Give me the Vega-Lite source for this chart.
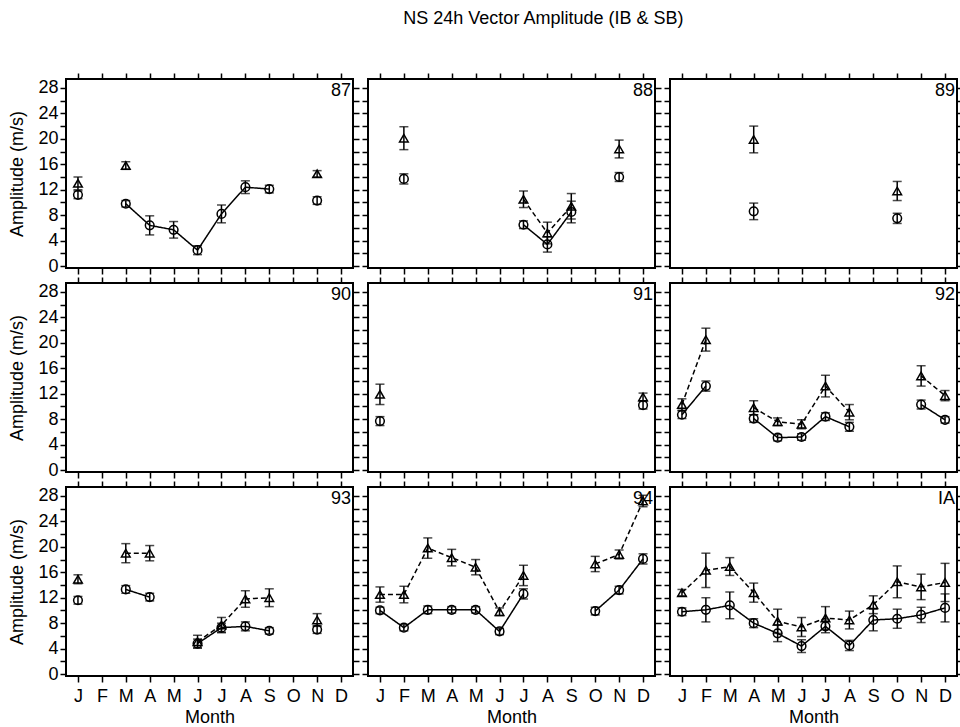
{
"$schema":"https://vega.github.io/schema/vega-lite/v6.json",
"padding":{"left":7,"top":10,"right":0,"bottom":0},
"title":{"text":"NS 24h Vector Amplitude (IB & SB)","fontSize":18,"fontWeight":"normal","font":"Liberation Sans","color":"black","anchor":"middle","offset":43,"dx":57},
"datasets":{"pts":[
{"p":"87","m":1,"s":"IB","v":11.2,"e":0.6},{"p":"87","m":2,"s":"IB","v":null},{"p":"87","m":3,"s":"IB","v":9.8,"e":0.5},{"p":"87","m":4,"s":"IB","v":6.4,"e":1.5},{"p":"87","m":5,"s":"IB","v":5.7,"e":1.3},{"p":"87","m":6,"s":"IB","v":2.5,"e":0.7},{"p":"87","m":7,"s":"IB","v":8.2,"e":1.4},{"p":"87","m":8,"s":"IB","v":12.4,"e":1.0},{"p":"87","m":9,"s":"IB","v":12.1,"e":0.6},{"p":"87","m":10,"s":"IB","v":null},{"p":"87","m":11,"s":"IB","v":10.3,"e":0.6},{"p":"87","m":12,"s":"IB","v":null},
{"p":"87","m":1,"s":"SB","v":13.0,"e":1.0},{"p":"87","m":2,"s":"SB","v":null},{"p":"87","m":3,"s":"SB","v":15.8,"e":0.6},{"p":"87","m":4,"s":"SB","v":null},{"p":"87","m":5,"s":"SB","v":null},{"p":"87","m":6,"s":"SB","v":null},{"p":"87","m":7,"s":"SB","v":null},{"p":"87","m":8,"s":"SB","v":null},{"p":"87","m":9,"s":"SB","v":null},{"p":"87","m":10,"s":"SB","v":null},{"p":"87","m":11,"s":"SB","v":14.5,"e":0.5},{"p":"87","m":12,"s":"SB","v":null},
{"p":"88","m":1,"s":"IB","v":null},{"p":"88","m":2,"s":"IB","v":13.7,"e":0.8},{"p":"88","m":3,"s":"IB","v":null},{"p":"88","m":4,"s":"IB","v":null},{"p":"88","m":5,"s":"IB","v":null},{"p":"88","m":6,"s":"IB","v":null},{"p":"88","m":7,"s":"IB","v":6.5,"e":0.6},{"p":"88","m":8,"s":"IB","v":3.4,"e":1.2},{"p":"88","m":9,"s":"IB","v":8.5,"e":1.7},{"p":"88","m":10,"s":"IB","v":null},{"p":"88","m":11,"s":"IB","v":14.0,"e":0.7},{"p":"88","m":12,"s":"IB","v":null},
{"p":"88","m":1,"s":"SB","v":null},{"p":"88","m":2,"s":"SB","v":20.1,"e":1.8},{"p":"88","m":3,"s":"SB","v":null},{"p":"88","m":4,"s":"SB","v":null},{"p":"88","m":5,"s":"SB","v":null},{"p":"88","m":6,"s":"SB","v":null},{"p":"88","m":7,"s":"SB","v":10.5,"e":1.3},{"p":"88","m":8,"s":"SB","v":5.2,"e":1.7},{"p":"88","m":9,"s":"SB","v":9.4,"e":2.0},{"p":"88","m":10,"s":"SB","v":null},{"p":"88","m":11,"s":"SB","v":18.4,"e":1.4},{"p":"88","m":12,"s":"SB","v":null},
{"p":"89","m":1,"s":"IB","v":null},{"p":"89","m":2,"s":"IB","v":null},{"p":"89","m":3,"s":"IB","v":null},{"p":"89","m":4,"s":"IB","v":8.6,"e":1.3},{"p":"89","m":5,"s":"IB","v":null},{"p":"89","m":6,"s":"IB","v":null},{"p":"89","m":7,"s":"IB","v":null},{"p":"89","m":8,"s":"IB","v":null},{"p":"89","m":9,"s":"IB","v":null},{"p":"89","m":10,"s":"IB","v":7.5,"e":0.8},{"p":"89","m":11,"s":"IB","v":null},{"p":"89","m":12,"s":"IB","v":null},
{"p":"89","m":1,"s":"SB","v":null},{"p":"89","m":2,"s":"SB","v":null},{"p":"89","m":3,"s":"SB","v":null},{"p":"89","m":4,"s":"SB","v":19.9,"e":2.1},{"p":"89","m":5,"s":"SB","v":null},{"p":"89","m":6,"s":"SB","v":null},{"p":"89","m":7,"s":"SB","v":null},{"p":"89","m":8,"s":"SB","v":null},{"p":"89","m":9,"s":"SB","v":null},{"p":"89","m":10,"s":"SB","v":11.8,"e":1.5},{"p":"89","m":11,"s":"SB","v":null},{"p":"89","m":12,"s":"SB","v":null},
{"p":"91","m":1,"s":"IB","v":7.7,"e":0.7},{"p":"91","m":2,"s":"IB","v":null},{"p":"91","m":11,"s":"IB","v":null},{"p":"91","m":12,"s":"IB","v":10.2,"e":0.6},
{"p":"91","m":1,"s":"SB","v":11.9,"e":1.6},{"p":"91","m":2,"s":"SB","v":null},{"p":"91","m":11,"s":"SB","v":null},{"p":"91","m":12,"s":"SB","v":11.5,"e":0.6},
{"p":"92","m":1,"s":"IB","v":8.7,"e":0.6},{"p":"92","m":2,"s":"IB","v":13.2,"e":0.8},{"p":"92","m":3,"s":"IB","v":null},{"p":"92","m":4,"s":"IB","v":8.1,"e":0.6},{"p":"92","m":5,"s":"IB","v":5.1,"e":0.5},{"p":"92","m":6,"s":"IB","v":5.2,"e":0.5},{"p":"92","m":7,"s":"IB","v":8.4,"e":0.6},{"p":"92","m":8,"s":"IB","v":6.8,"e":0.7},{"p":"92","m":9,"s":"IB","v":null},{"p":"92","m":10,"s":"IB","v":null},{"p":"92","m":11,"s":"IB","v":10.3,"e":0.7},{"p":"92","m":12,"s":"IB","v":7.9,"e":0.5},
{"p":"92","m":1,"s":"SB","v":10.3,"e":0.9},{"p":"92","m":2,"s":"SB","v":20.5,"e":1.8},{"p":"92","m":3,"s":"SB","v":null},{"p":"92","m":4,"s":"SB","v":9.8,"e":1.1},{"p":"92","m":5,"s":"SB","v":7.6,"e":0.6},{"p":"92","m":6,"s":"SB","v":7.2,"e":0.7},{"p":"92","m":7,"s":"SB","v":13.2,"e":1.7},{"p":"92","m":8,"s":"SB","v":9.1,"e":1.2},{"p":"92","m":9,"s":"SB","v":null},{"p":"92","m":10,"s":"SB","v":null},{"p":"92","m":11,"s":"SB","v":14.8,"e":1.6},{"p":"92","m":12,"s":"SB","v":11.7,"e":0.8},
{"p":"93","m":1,"s":"IB","v":11.6,"e":0.6},{"p":"93","m":2,"s":"IB","v":null},{"p":"93","m":3,"s":"IB","v":13.3,"e":0.6},{"p":"93","m":4,"s":"IB","v":12.1,"e":0.6},{"p":"93","m":5,"s":"IB","v":null},{"p":"93","m":6,"s":"IB","v":4.8,"e":0.7},{"p":"93","m":7,"s":"IB","v":7.3,"e":0.7},{"p":"93","m":8,"s":"IB","v":7.5,"e":0.7},{"p":"93","m":9,"s":"IB","v":6.8,"e":0.5},{"p":"93","m":10,"s":"IB","v":null},{"p":"93","m":11,"s":"IB","v":7.0,"e":0.6},{"p":"93","m":12,"s":"IB","v":null},
{"p":"93","m":1,"s":"SB","v":14.9,"e":0.7},{"p":"93","m":2,"s":"SB","v":null},{"p":"93","m":3,"s":"SB","v":19.0,"e":1.5},{"p":"93","m":4,"s":"SB","v":19.0,"e":1.2},{"p":"93","m":5,"s":"SB","v":null},{"p":"93","m":6,"s":"SB","v":5.1,"e":1.0},{"p":"93","m":7,"s":"SB","v":7.7,"e":1.2},{"p":"93","m":8,"s":"SB","v":11.8,"e":1.3},{"p":"93","m":9,"s":"SB","v":12.0,"e":1.4},{"p":"93","m":10,"s":"SB","v":null},{"p":"93","m":11,"s":"SB","v":8.5,"e":1.0},{"p":"93","m":12,"s":"SB","v":null},
{"p":"94","m":1,"s":"IB","v":10.0,"e":0.5},{"p":"94","m":2,"s":"IB","v":7.3,"e":0.5},{"p":"94","m":3,"s":"IB","v":10.1,"e":0.6},{"p":"94","m":4,"s":"IB","v":10.1,"e":0.5},{"p":"94","m":5,"s":"IB","v":10.1,"e":0.5},{"p":"94","m":6,"s":"IB","v":6.7,"e":0.5},{"p":"94","m":7,"s":"IB","v":12.6,"e":0.8},{"p":"94","m":8,"s":"IB","v":null},{"p":"94","m":9,"s":"IB","v":null},{"p":"94","m":10,"s":"IB","v":9.9,"e":0.6},{"p":"94","m":11,"s":"IB","v":13.2,"e":0.6},{"p":"94","m":12,"s":"IB","v":18.1,"e":0.8},
{"p":"94","m":1,"s":"SB","v":12.5,"e":1.2},{"p":"94","m":2,"s":"SB","v":12.5,"e":1.3},{"p":"94","m":3,"s":"SB","v":19.8,"e":1.6},{"p":"94","m":4,"s":"SB","v":18.3,"e":1.3},{"p":"94","m":5,"s":"SB","v":16.8,"e":1.2},{"p":"94","m":6,"s":"SB","v":9.8,"e":0.6},{"p":"94","m":7,"s":"SB","v":15.5,"e":1.6},{"p":"94","m":8,"s":"SB","v":null},{"p":"94","m":9,"s":"SB","v":null},{"p":"94","m":10,"s":"SB","v":17.3,"e":1.2},{"p":"94","m":11,"s":"SB","v":18.8,"e":0.7},{"p":"94","m":12,"s":"SB","v":27.2,"e":0.9},
{"p":"IA","m":1,"s":"IB","v":9.8,"e":0.6},{"p":"IA","m":2,"s":"IB","v":10.1,"e":1.9},{"p":"IA","m":3,"s":"IB","v":10.8,"e":2.1},{"p":"IA","m":4,"s":"IB","v":8.0,"e":0.7},{"p":"IA","m":5,"s":"IB","v":6.4,"e":1.3},{"p":"IA","m":6,"s":"IB","v":4.4,"e":1.0},{"p":"IA","m":7,"s":"IB","v":7.5,"e":1.0},{"p":"IA","m":8,"s":"IB","v":4.5,"e":0.8},{"p":"IA","m":9,"s":"IB","v":8.5,"e":1.7},{"p":"IA","m":10,"s":"IB","v":8.7,"e":1.5},{"p":"IA","m":11,"s":"IB","v":9.3,"e":1.2},{"p":"IA","m":12,"s":"IB","v":10.4,"e":2.2},
{"p":"IA","m":1,"s":"SB","v":12.8,"e":0.5},{"p":"IA","m":2,"s":"SB","v":16.3,"e":2.7},{"p":"IA","m":3,"s":"SB","v":16.9,"e":1.4},{"p":"IA","m":4,"s":"SB","v":12.8,"e":1.5},{"p":"IA","m":5,"s":"SB","v":8.3,"e":1.9},{"p":"IA","m":6,"s":"SB","v":7.4,"e":1.5},{"p":"IA","m":7,"s":"SB","v":8.8,"e":1.8},{"p":"IA","m":8,"s":"SB","v":8.5,"e":1.4},{"p":"IA","m":9,"s":"SB","v":10.9,"e":1.4},{"p":"IA","m":10,"s":"SB","v":14.5,"e":2.5},{"p":"IA","m":11,"s":"SB","v":13.7,"e":2.0},{"p":"IA","m":12,"s":"SB","v":14.4,"e":3.0}
]},
"columns":3,
"spacing":{"row":15,"column":15},
"bounds":"flush",
"concat":[
{"width":287,"height":189,"data":{"name":"pts"},"layer":[
 {"transform":[{"filter":"datum.p=='87' && isValid(datum.v)"}],"mark":{"type":"errorbar","ticks":true,"size":9,"thickness":1.5},
  "encoding":{"x":{"field":"m","type":"quantitative","scale":{"domain":[0.5,12.5],"nice":false,"zero":false},"axis":{"orient":"bottom","values":[1,2,3,4,5,6,7,8,9,10,11,12],"labels":false,"title":null}},
   "y":{"field":"v","type":"quantitative","scale":{"domain":[-0.3,29.4],"nice":false,"zero":false},"axis":{"orient":"left","values":[0,2,4,6,8,10,12,14,16,18,20,22,24,26,28],"labelExpr":"datum.value % 4 == 0 ? datum.label : ''","title":"Amplitude (m/s)"}},
   "yError":{"field":"e"}}},
 {"transform":[{"filter":"datum.p=='87'"}],"mark":{"type":"line","strokeWidth":1.5,"invalid":"break-paths-show-domains"},
  "encoding":{"x":{"field":"m","type":"quantitative","scale":{"domain":[0.5,12.5],"nice":false,"zero":false},"axis":null},"y":{"field":"v","type":"quantitative","scale":{"domain":[-0.3,29.4],"nice":false,"zero":false},"axis":null},
   "strokeDash":{"field":"s","type":"nominal","scale":{"domain":["IB","SB"],"range":[[1,0],[5,3]]},"legend":null}}},
 {"transform":[{"filter":"datum.p=='87' && isValid(datum.v)"}],"mark":{"type":"point","filled":false,"size":75,"strokeWidth":1.5,"opacity":1},
  "encoding":{"x":{"field":"m","type":"quantitative","scale":{"domain":[0.5,12.5],"nice":false,"zero":false},"axis":null},"y":{"field":"v","type":"quantitative","scale":{"domain":[-0.3,29.4],"nice":false,"zero":false},"axis":null},
   "shape":{"field":"s","type":"nominal","scale":{"domain":["IB","SB"],"range":["circle","triangle-up"]},"legend":null}}},
 {"data":{"values":[{"t":"87"}]},"mark":{"type":"text","align":"right","baseline":"top","dx":-2,"dy":3,"fontSize":18},
  "encoding":{"x":{"datum":12.5,"type":"quantitative","scale":{"domain":[0.5,12.5],"nice":false,"zero":false},"axis":{"orient":"top","values":[1,2,3,4,5,6,7,8,9,10,11,12],"labels":false,"title":null}},
   "y":{"datum":29.4,"type":"quantitative","scale":{"domain":[-0.3,29.4],"nice":false,"zero":false},"axis":{"orient":"right","values":[0,2,4,6,8,10,12,14,16,18,20,22,24,26,28],"labels":false,"title":null}},
   "text":{"field":"t"}}}
],"resolve":{"axis":{"x":"independent","y":"independent"}}},
{"width":287,"height":189,"data":{"name":"pts"},"layer":[
 {"transform":[{"filter":"datum.p=='88' && isValid(datum.v)"}],"mark":{"type":"errorbar","ticks":true,"size":9,"thickness":1.5},
  "encoding":{"x":{"field":"m","type":"quantitative","scale":{"domain":[0.5,12.5],"nice":false,"zero":false},"axis":{"orient":"bottom","values":[1,2,3,4,5,6,7,8,9,10,11,12],"labels":false,"title":null}},
   "y":{"field":"v","type":"quantitative","scale":{"domain":[-0.3,29.4],"nice":false,"zero":false},"axis":{"orient":"left","values":[0,2,4,6,8,10,12,14,16,18,20,22,24,26,28],"labels":false,"title":null}},
   "yError":{"field":"e"}}},
 {"transform":[{"filter":"datum.p=='88'"}],"mark":{"type":"line","strokeWidth":1.5,"invalid":"break-paths-show-domains"},
  "encoding":{"x":{"field":"m","type":"quantitative","scale":{"domain":[0.5,12.5],"nice":false,"zero":false},"axis":null},"y":{"field":"v","type":"quantitative","scale":{"domain":[-0.3,29.4],"nice":false,"zero":false},"axis":null},
   "strokeDash":{"field":"s","type":"nominal","scale":{"domain":["IB","SB"],"range":[[1,0],[5,3]]},"legend":null}}},
 {"transform":[{"filter":"datum.p=='88' && isValid(datum.v)"}],"mark":{"type":"point","filled":false,"size":75,"strokeWidth":1.5,"opacity":1},
  "encoding":{"x":{"field":"m","type":"quantitative","scale":{"domain":[0.5,12.5],"nice":false,"zero":false},"axis":null},"y":{"field":"v","type":"quantitative","scale":{"domain":[-0.3,29.4],"nice":false,"zero":false},"axis":null},
   "shape":{"field":"s","type":"nominal","scale":{"domain":["IB","SB"],"range":["circle","triangle-up"]},"legend":null}}},
 {"data":{"values":[{"t":"88"}]},"mark":{"type":"text","align":"right","baseline":"top","dx":-2,"dy":3,"fontSize":18},
  "encoding":{"x":{"datum":12.5,"type":"quantitative","scale":{"domain":[0.5,12.5],"nice":false,"zero":false},"axis":{"orient":"top","values":[1,2,3,4,5,6,7,8,9,10,11,12],"labels":false,"title":null}},
   "y":{"datum":29.4,"type":"quantitative","scale":{"domain":[-0.3,29.4],"nice":false,"zero":false},"axis":{"orient":"right","values":[0,2,4,6,8,10,12,14,16,18,20,22,24,26,28],"labels":false,"title":null}},
   "text":{"field":"t"}}}
],"resolve":{"axis":{"x":"independent","y":"independent"}}},
{"width":287,"height":189,"data":{"name":"pts"},"layer":[
 {"transform":[{"filter":"datum.p=='89' && isValid(datum.v)"}],"mark":{"type":"errorbar","ticks":true,"size":9,"thickness":1.5},
  "encoding":{"x":{"field":"m","type":"quantitative","scale":{"domain":[0.5,12.5],"nice":false,"zero":false},"axis":{"orient":"bottom","values":[1,2,3,4,5,6,7,8,9,10,11,12],"labels":false,"title":null}},
   "y":{"field":"v","type":"quantitative","scale":{"domain":[-0.3,29.4],"nice":false,"zero":false},"axis":{"orient":"left","values":[0,2,4,6,8,10,12,14,16,18,20,22,24,26,28],"labels":false,"title":null}},
   "yError":{"field":"e"}}},
 {"transform":[{"filter":"datum.p=='89'"}],"mark":{"type":"line","strokeWidth":1.5,"invalid":"break-paths-show-domains"},
  "encoding":{"x":{"field":"m","type":"quantitative","scale":{"domain":[0.5,12.5],"nice":false,"zero":false},"axis":null},"y":{"field":"v","type":"quantitative","scale":{"domain":[-0.3,29.4],"nice":false,"zero":false},"axis":null},
   "strokeDash":{"field":"s","type":"nominal","scale":{"domain":["IB","SB"],"range":[[1,0],[5,3]]},"legend":null}}},
 {"transform":[{"filter":"datum.p=='89' && isValid(datum.v)"}],"mark":{"type":"point","filled":false,"size":75,"strokeWidth":1.5,"opacity":1},
  "encoding":{"x":{"field":"m","type":"quantitative","scale":{"domain":[0.5,12.5],"nice":false,"zero":false},"axis":null},"y":{"field":"v","type":"quantitative","scale":{"domain":[-0.3,29.4],"nice":false,"zero":false},"axis":null},
   "shape":{"field":"s","type":"nominal","scale":{"domain":["IB","SB"],"range":["circle","triangle-up"]},"legend":null}}},
 {"data":{"values":[{"t":"89"}]},"mark":{"type":"text","align":"right","baseline":"top","dx":-2,"dy":3,"fontSize":18},
  "encoding":{"x":{"datum":12.5,"type":"quantitative","scale":{"domain":[0.5,12.5],"nice":false,"zero":false},"axis":{"orient":"top","values":[1,2,3,4,5,6,7,8,9,10,11,12],"labels":false,"title":null}},
   "y":{"datum":29.4,"type":"quantitative","scale":{"domain":[-0.3,29.4],"nice":false,"zero":false},"axis":{"orient":"right","values":[0,2,4,6,8,10,12,14,16,18,20,22,24,26,28],"labels":false,"title":null}},
   "text":{"field":"t"}}}
],"resolve":{"axis":{"x":"independent","y":"independent"}}},
{"width":287,"height":189,"data":{"name":"pts"},"layer":[
 {"transform":[{"filter":"datum.p=='90' && isValid(datum.v)"}],"mark":{"type":"errorbar","ticks":true,"size":9,"thickness":1.5},
  "encoding":{"x":{"field":"m","type":"quantitative","scale":{"domain":[0.5,12.5],"nice":false,"zero":false},"axis":{"orient":"bottom","values":[1,2,3,4,5,6,7,8,9,10,11,12],"labels":false,"title":null}},
   "y":{"field":"v","type":"quantitative","scale":{"domain":[-0.3,29.4],"nice":false,"zero":false},"axis":{"orient":"left","values":[0,2,4,6,8,10,12,14,16,18,20,22,24,26,28],"labelExpr":"datum.value % 4 == 0 ? datum.label : ''","title":"Amplitude (m/s)"}},
   "yError":{"field":"e"}}},
 {"data":{"values":[{"t":"90"}]},"mark":{"type":"text","align":"right","baseline":"top","dx":-2,"dy":3,"fontSize":18},
  "encoding":{"x":{"datum":12.5,"type":"quantitative","scale":{"domain":[0.5,12.5],"nice":false,"zero":false},"axis":{"orient":"top","values":[1,2,3,4,5,6,7,8,9,10,11,12],"labels":false,"title":null}},
   "y":{"datum":29.4,"type":"quantitative","scale":{"domain":[-0.3,29.4],"nice":false,"zero":false},"axis":{"orient":"right","values":[0,2,4,6,8,10,12,14,16,18,20,22,24,26,28],"labels":false,"title":null}},
   "text":{"field":"t"}}}
],"resolve":{"axis":{"x":"independent","y":"independent"}}},
{"width":287,"height":189,"data":{"name":"pts"},"layer":[
 {"transform":[{"filter":"datum.p=='91' && isValid(datum.v)"}],"mark":{"type":"errorbar","ticks":true,"size":9,"thickness":1.5},
  "encoding":{"x":{"field":"m","type":"quantitative","scale":{"domain":[0.5,12.5],"nice":false,"zero":false},"axis":{"orient":"bottom","values":[1,2,3,4,5,6,7,8,9,10,11,12],"labels":false,"title":null}},
   "y":{"field":"v","type":"quantitative","scale":{"domain":[-0.3,29.4],"nice":false,"zero":false},"axis":{"orient":"left","values":[0,2,4,6,8,10,12,14,16,18,20,22,24,26,28],"labels":false,"title":null}},
   "yError":{"field":"e"}}},
 {"transform":[{"filter":"datum.p=='91'"}],"mark":{"type":"line","strokeWidth":1.5,"invalid":"break-paths-show-domains"},
  "encoding":{"x":{"field":"m","type":"quantitative","scale":{"domain":[0.5,12.5],"nice":false,"zero":false},"axis":null},"y":{"field":"v","type":"quantitative","scale":{"domain":[-0.3,29.4],"nice":false,"zero":false},"axis":null},
   "strokeDash":{"field":"s","type":"nominal","scale":{"domain":["IB","SB"],"range":[[1,0],[5,3]]},"legend":null}}},
 {"transform":[{"filter":"datum.p=='91' && isValid(datum.v)"}],"mark":{"type":"point","filled":false,"size":75,"strokeWidth":1.5,"opacity":1},
  "encoding":{"x":{"field":"m","type":"quantitative","scale":{"domain":[0.5,12.5],"nice":false,"zero":false},"axis":null},"y":{"field":"v","type":"quantitative","scale":{"domain":[-0.3,29.4],"nice":false,"zero":false},"axis":null},
   "shape":{"field":"s","type":"nominal","scale":{"domain":["IB","SB"],"range":["circle","triangle-up"]},"legend":null}}},
 {"data":{"values":[{"t":"91"}]},"mark":{"type":"text","align":"right","baseline":"top","dx":-2,"dy":3,"fontSize":18},
  "encoding":{"x":{"datum":12.5,"type":"quantitative","scale":{"domain":[0.5,12.5],"nice":false,"zero":false},"axis":{"orient":"top","values":[1,2,3,4,5,6,7,8,9,10,11,12],"labels":false,"title":null}},
   "y":{"datum":29.4,"type":"quantitative","scale":{"domain":[-0.3,29.4],"nice":false,"zero":false},"axis":{"orient":"right","values":[0,2,4,6,8,10,12,14,16,18,20,22,24,26,28],"labels":false,"title":null}},
   "text":{"field":"t"}}}
],"resolve":{"axis":{"x":"independent","y":"independent"}}},
{"width":287,"height":189,"data":{"name":"pts"},"layer":[
 {"transform":[{"filter":"datum.p=='92' && isValid(datum.v)"}],"mark":{"type":"errorbar","ticks":true,"size":9,"thickness":1.5},
  "encoding":{"x":{"field":"m","type":"quantitative","scale":{"domain":[0.5,12.5],"nice":false,"zero":false},"axis":{"orient":"bottom","values":[1,2,3,4,5,6,7,8,9,10,11,12],"labels":false,"title":null}},
   "y":{"field":"v","type":"quantitative","scale":{"domain":[-0.3,29.4],"nice":false,"zero":false},"axis":{"orient":"left","values":[0,2,4,6,8,10,12,14,16,18,20,22,24,26,28],"labels":false,"title":null}},
   "yError":{"field":"e"}}},
 {"transform":[{"filter":"datum.p=='92'"}],"mark":{"type":"line","strokeWidth":1.5,"invalid":"break-paths-show-domains"},
  "encoding":{"x":{"field":"m","type":"quantitative","scale":{"domain":[0.5,12.5],"nice":false,"zero":false},"axis":null},"y":{"field":"v","type":"quantitative","scale":{"domain":[-0.3,29.4],"nice":false,"zero":false},"axis":null},
   "strokeDash":{"field":"s","type":"nominal","scale":{"domain":["IB","SB"],"range":[[1,0],[5,3]]},"legend":null}}},
 {"transform":[{"filter":"datum.p=='92' && isValid(datum.v)"}],"mark":{"type":"point","filled":false,"size":75,"strokeWidth":1.5,"opacity":1},
  "encoding":{"x":{"field":"m","type":"quantitative","scale":{"domain":[0.5,12.5],"nice":false,"zero":false},"axis":null},"y":{"field":"v","type":"quantitative","scale":{"domain":[-0.3,29.4],"nice":false,"zero":false},"axis":null},
   "shape":{"field":"s","type":"nominal","scale":{"domain":["IB","SB"],"range":["circle","triangle-up"]},"legend":null}}},
 {"data":{"values":[{"t":"92"}]},"mark":{"type":"text","align":"right","baseline":"top","dx":-2,"dy":3,"fontSize":18},
  "encoding":{"x":{"datum":12.5,"type":"quantitative","scale":{"domain":[0.5,12.5],"nice":false,"zero":false},"axis":{"orient":"top","values":[1,2,3,4,5,6,7,8,9,10,11,12],"labels":false,"title":null}},
   "y":{"datum":29.4,"type":"quantitative","scale":{"domain":[-0.3,29.4],"nice":false,"zero":false},"axis":{"orient":"right","values":[0,2,4,6,8,10,12,14,16,18,20,22,24,26,28],"labels":false,"title":null}},
   "text":{"field":"t"}}}
],"resolve":{"axis":{"x":"independent","y":"independent"}}},
{"width":287,"height":189,"data":{"name":"pts"},"layer":[
 {"transform":[{"filter":"datum.p=='93' && isValid(datum.v)"}],"mark":{"type":"errorbar","ticks":true,"size":9,"thickness":1.5},
  "encoding":{"x":{"field":"m","type":"quantitative","scale":{"domain":[0.5,12.5],"nice":false,"zero":false},"axis":{"orient":"bottom","values":[1,2,3,4,5,6,7,8,9,10,11,12],"labelExpr":"['J','F','M','A','M','J','J','A','S','O','N','D'][datum.value-1]","title":"Month"}},
   "y":{"field":"v","type":"quantitative","scale":{"domain":[-0.3,29.4],"nice":false,"zero":false},"axis":{"orient":"left","values":[0,2,4,6,8,10,12,14,16,18,20,22,24,26,28],"labelExpr":"datum.value % 4 == 0 ? datum.label : ''","title":"Amplitude (m/s)"}},
   "yError":{"field":"e"}}},
 {"transform":[{"filter":"datum.p=='93'"}],"mark":{"type":"line","strokeWidth":1.5,"invalid":"break-paths-show-domains"},
  "encoding":{"x":{"field":"m","type":"quantitative","scale":{"domain":[0.5,12.5],"nice":false,"zero":false},"axis":null},"y":{"field":"v","type":"quantitative","scale":{"domain":[-0.3,29.4],"nice":false,"zero":false},"axis":null},
   "strokeDash":{"field":"s","type":"nominal","scale":{"domain":["IB","SB"],"range":[[1,0],[5,3]]},"legend":null}}},
 {"transform":[{"filter":"datum.p=='93' && isValid(datum.v)"}],"mark":{"type":"point","filled":false,"size":75,"strokeWidth":1.5,"opacity":1},
  "encoding":{"x":{"field":"m","type":"quantitative","scale":{"domain":[0.5,12.5],"nice":false,"zero":false},"axis":null},"y":{"field":"v","type":"quantitative","scale":{"domain":[-0.3,29.4],"nice":false,"zero":false},"axis":null},
   "shape":{"field":"s","type":"nominal","scale":{"domain":["IB","SB"],"range":["circle","triangle-up"]},"legend":null}}},
 {"data":{"values":[{"t":"93"}]},"mark":{"type":"text","align":"right","baseline":"top","dx":-2,"dy":3,"fontSize":18},
  "encoding":{"x":{"datum":12.5,"type":"quantitative","scale":{"domain":[0.5,12.5],"nice":false,"zero":false},"axis":{"orient":"top","values":[1,2,3,4,5,6,7,8,9,10,11,12],"labels":false,"title":null}},
   "y":{"datum":29.4,"type":"quantitative","scale":{"domain":[-0.3,29.4],"nice":false,"zero":false},"axis":{"orient":"right","values":[0,2,4,6,8,10,12,14,16,18,20,22,24,26,28],"labels":false,"title":null}},
   "text":{"field":"t"}}}
],"resolve":{"axis":{"x":"independent","y":"independent"}}},
{"width":287,"height":189,"data":{"name":"pts"},"layer":[
 {"transform":[{"filter":"datum.p=='94' && isValid(datum.v)"}],"mark":{"type":"errorbar","ticks":true,"size":9,"thickness":1.5},
  "encoding":{"x":{"field":"m","type":"quantitative","scale":{"domain":[0.5,12.5],"nice":false,"zero":false},"axis":{"orient":"bottom","values":[1,2,3,4,5,6,7,8,9,10,11,12],"labelExpr":"['J','F','M','A','M','J','J','A','S','O','N','D'][datum.value-1]","title":"Month"}},
   "y":{"field":"v","type":"quantitative","scale":{"domain":[-0.3,29.4],"nice":false,"zero":false},"axis":{"orient":"left","values":[0,2,4,6,8,10,12,14,16,18,20,22,24,26,28],"labels":false,"title":null}},
   "yError":{"field":"e"}}},
 {"transform":[{"filter":"datum.p=='94'"}],"mark":{"type":"line","strokeWidth":1.5,"invalid":"break-paths-show-domains"},
  "encoding":{"x":{"field":"m","type":"quantitative","scale":{"domain":[0.5,12.5],"nice":false,"zero":false},"axis":null},"y":{"field":"v","type":"quantitative","scale":{"domain":[-0.3,29.4],"nice":false,"zero":false},"axis":null},
   "strokeDash":{"field":"s","type":"nominal","scale":{"domain":["IB","SB"],"range":[[1,0],[5,3]]},"legend":null}}},
 {"transform":[{"filter":"datum.p=='94' && isValid(datum.v)"}],"mark":{"type":"point","filled":false,"size":75,"strokeWidth":1.5,"opacity":1},
  "encoding":{"x":{"field":"m","type":"quantitative","scale":{"domain":[0.5,12.5],"nice":false,"zero":false},"axis":null},"y":{"field":"v","type":"quantitative","scale":{"domain":[-0.3,29.4],"nice":false,"zero":false},"axis":null},
   "shape":{"field":"s","type":"nominal","scale":{"domain":["IB","SB"],"range":["circle","triangle-up"]},"legend":null}}},
 {"data":{"values":[{"t":"94"}]},"mark":{"type":"text","align":"right","baseline":"top","dx":-2,"dy":3,"fontSize":18},
  "encoding":{"x":{"datum":12.5,"type":"quantitative","scale":{"domain":[0.5,12.5],"nice":false,"zero":false},"axis":{"orient":"top","values":[1,2,3,4,5,6,7,8,9,10,11,12],"labels":false,"title":null}},
   "y":{"datum":29.4,"type":"quantitative","scale":{"domain":[-0.3,29.4],"nice":false,"zero":false},"axis":{"orient":"right","values":[0,2,4,6,8,10,12,14,16,18,20,22,24,26,28],"labels":false,"title":null}},
   "text":{"field":"t"}}}
],"resolve":{"axis":{"x":"independent","y":"independent"}}},
{"width":287,"height":189,"data":{"name":"pts"},"layer":[
 {"transform":[{"filter":"datum.p=='IA' && isValid(datum.v)"}],"mark":{"type":"errorbar","ticks":true,"size":9,"thickness":1.5},
  "encoding":{"x":{"field":"m","type":"quantitative","scale":{"domain":[0.5,12.5],"nice":false,"zero":false},"axis":{"orient":"bottom","values":[1,2,3,4,5,6,7,8,9,10,11,12],"labelExpr":"['J','F','M','A','M','J','J','A','S','O','N','D'][datum.value-1]","title":"Month"}},
   "y":{"field":"v","type":"quantitative","scale":{"domain":[-0.3,29.4],"nice":false,"zero":false},"axis":{"orient":"left","values":[0,2,4,6,8,10,12,14,16,18,20,22,24,26,28],"labels":false,"title":null}},
   "yError":{"field":"e"}}},
 {"transform":[{"filter":"datum.p=='IA'"}],"mark":{"type":"line","strokeWidth":1.5,"invalid":"break-paths-show-domains"},
  "encoding":{"x":{"field":"m","type":"quantitative","scale":{"domain":[0.5,12.5],"nice":false,"zero":false},"axis":null},"y":{"field":"v","type":"quantitative","scale":{"domain":[-0.3,29.4],"nice":false,"zero":false},"axis":null},
   "strokeDash":{"field":"s","type":"nominal","scale":{"domain":["IB","SB"],"range":[[1,0],[5,3]]},"legend":null}}},
 {"transform":[{"filter":"datum.p=='IA' && isValid(datum.v)"}],"mark":{"type":"point","filled":false,"size":75,"strokeWidth":1.5,"opacity":1},
  "encoding":{"x":{"field":"m","type":"quantitative","scale":{"domain":[0.5,12.5],"nice":false,"zero":false},"axis":null},"y":{"field":"v","type":"quantitative","scale":{"domain":[-0.3,29.4],"nice":false,"zero":false},"axis":null},
   "shape":{"field":"s","type":"nominal","scale":{"domain":["IB","SB"],"range":["circle","triangle-up"]},"legend":null}}},
 {"data":{"values":[{"t":"IA"}]},"mark":{"type":"text","align":"right","baseline":"top","dx":-2,"dy":3,"fontSize":18},
  "encoding":{"x":{"datum":12.5,"type":"quantitative","scale":{"domain":[0.5,12.5],"nice":false,"zero":false},"axis":{"orient":"top","values":[1,2,3,4,5,6,7,8,9,10,11,12],"labels":false,"title":null}},
   "y":{"datum":29.4,"type":"quantitative","scale":{"domain":[-0.3,29.4],"nice":false,"zero":false},"axis":{"orient":"right","values":[0,2,4,6,8,10,12,14,16,18,20,22,24,26,28],"labels":false,"title":null}},
   "text":{"field":"t"}}}
],"resolve":{"axis":{"x":"independent","y":"independent"}}}
],
"config":{
 "font":"Liberation Sans",
 "view":{"stroke":"black","strokeWidth":2},
 "mark":{"color":"black"},
 "axis":{"grid":false,"domain":false,"tickColor":"black","tickWidth":1.5,"tickSize":6,"labelFont":"Liberation Sans","labelFontSize":18,"labelColor":"black","labelPadding":2,"labelFlush":false,"labelOverlap":false,"titleFont":"Liberation Sans","titleFontSize":18,"titleFontWeight":"normal","titleColor":"black"},
 "axisY":{"titlePadding":11},
 "axisX":{"titlePadding":3,"labelPadding":5}
}
}
